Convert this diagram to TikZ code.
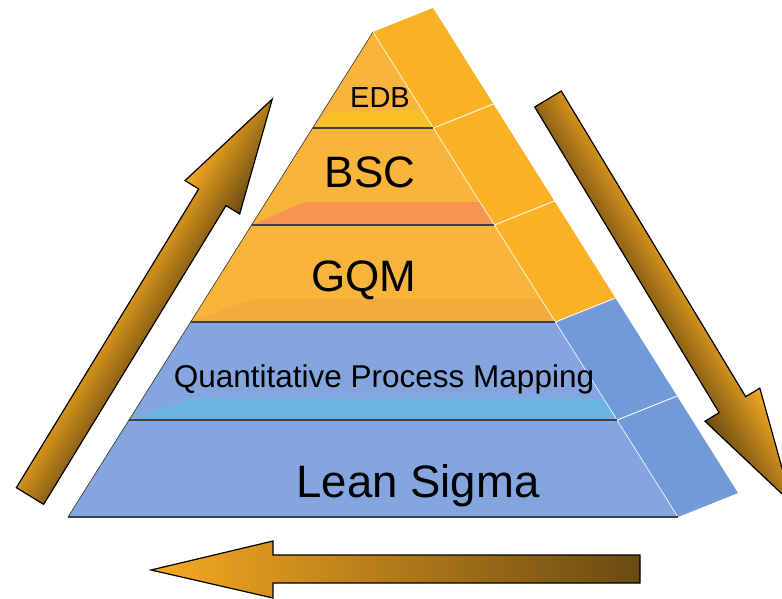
\documentclass[tikz,border=0pt]{standalone}
\usepackage{fontspec}
\setmainfont{Liberation Sans}
\usetikzlibrary{calc}

\definecolor{front_orange}{HTML}{F9B43C}
\definecolor{side_orange}{HTML}{FAB123}
\definecolor{front_blue}{HTML}{84A5DD}
\definecolor{side_blue}{HTML}{729AD8}
\definecolor{arrow_light}{HTML}{F6AA20}
\definecolor{arrow_dark}{HTML}{6A4A12}

\begin{document}
\begin{tikzpicture}[ % one unit = one pixel of the reference, y goes down
x=1pt, y=-1pt,
orange_layer/.style={fill=front_orange, draw=none},
blue_layer/.style={fill=front_blue, draw=none},
band/.style={draw=none, fill opacity=0.45},
layer_line/.style={draw=black!75, line width=1.2pt},
side_line/.style={draw=white, line width=0.9pt},
layer_text/.style={anchor=base, inner sep=0pt, text=black},
fat_arrow/.style={draw=black, line width=1.2pt, line join=miter, top color=arrow_light, bottom color=arrow_dark}
]
\useasboundingbox (0,0) rectangle (782,599);

% corners of the pyramid front: left/right ends of each level
\coordinate (apex) at (373,32);
\coordinate (l1) at (312.6,128); \coordinate (r1) at (433.4,128);
\coordinate (l2) at (251.6,225); \coordinate (r2) at (494.4,225);
\coordinate (l3) at (190.6,322); \coordinate (r3) at (555.4,322);
\coordinate (l4) at (128.9,420); \coordinate (r4) at (617.1,420);
\coordinate (l5) at (68,517);    \coordinate (r5) at (678,517);

% side face of the pyramid
\fill[side_orange] (apex) -- ++(60,-24) -- ($(r3)+(60,-24)$) -- (r3) -- cycle;
\fill[side_blue] (r3) -- ++(60,-24) -- ($(r5)+(60,-24)$) -- (r5) -- cycle;
\foreach \p in {r1,r2,r3,r4}
  \draw[side_line] (\p) -- ++(60,-24);

% front layers
\fill[orange_layer] (apex) -- (r1) -- (l1) -- cycle;
\fill[orange_layer] (l1) -- (r1) -- (r2) -- (l2) -- cycle;
\fill[orange_layer] (l2) -- (r2) -- (r3) -- (l3) -- cycle;
\fill[blue_layer] (l3) -- (r3) -- (r4) -- (l4) -- cycle;
\fill[blue_layer] (l4) -- (r4) -- (r5) -- (l5) -- cycle;

% light bands at the foot of the layers
\fill[band, fill opacity=0.3, fill=yellow!80!orange] (l1) -- (330,112) -- (422,110) -- (r1) -- cycle;
\fill[band, fill={rgb,255:red,246;green,110;blue,110}] (l2) -- (305,202) -- (479.9,202) -- (r2) -- cycle;
\fill[band, fill opacity=0.35, fill=orange!70!brown!80!white] (l3) -- (252,299) -- (540.9,299) -- (r3) -- cycle;
\fill[band, fill={rgb,255:red,80;green,200;blue,235}] (l4) -- (193,398) -- (603.2,398) -- (r4) -- cycle;

% outlines and level lines
\draw[black!80, line width=0.6pt] (apex) -- (l5);
\draw[white, line width=0.6pt] (apex) -- (r5);
\foreach \i in {1,...,5}
  \draw[layer_line] (l\i) -- (r\i);

% layer labels
\node[layer_text, font=\fontsize{29}{29}\selectfont] (edb) at (380,108) {EDB};
\node[layer_text, font=\fontsize{44}{44}\selectfont] (bsc) at (370,187) {BSC};
\node[layer_text, font=\fontsize{44}{44}\selectfont] (gqm) at (364,291) {GQM};
\node[layer_text, font=\fontsize{31.5}{31.5}\selectfont] (qpm) at (384,387) {Quantitative Process Mapping};
\node[layer_text, font=\fontsize{45.5}{45.5}\selectfont] (lean) at (418,497) {Lean Sigma};

% arrow up the left side
\begin{scope}[transform canvas={shift={(30,496)}, rotate=58.6}]
\draw[fat_arrow] (0,-16) -- (350,-16) -- (350,-32) -- (465,0) -- (350,32) -- (350,16) -- (0,16) -- cycle;
\end{scope}

% arrow down the right side
\begin{scope}[transform canvas={shift={(548,99)}, rotate=-58.9}]
\draw[fat_arrow] (0,-15.5) -- (357,-15.5) -- (357,-32) -- (472,0) -- (357,32) -- (357,15.5) -- (0,15.5) -- cycle;
\end{scope}

% arrow along the bottom
\draw[fat_arrow, left color=arrow_light, right color=arrow_dark]
  (151,570) -- (273,541) -- (273,555) -- (640,555) -- (640,583) -- (273,583) -- (273,598) -- cycle;
\end{tikzpicture}
\end{document}
